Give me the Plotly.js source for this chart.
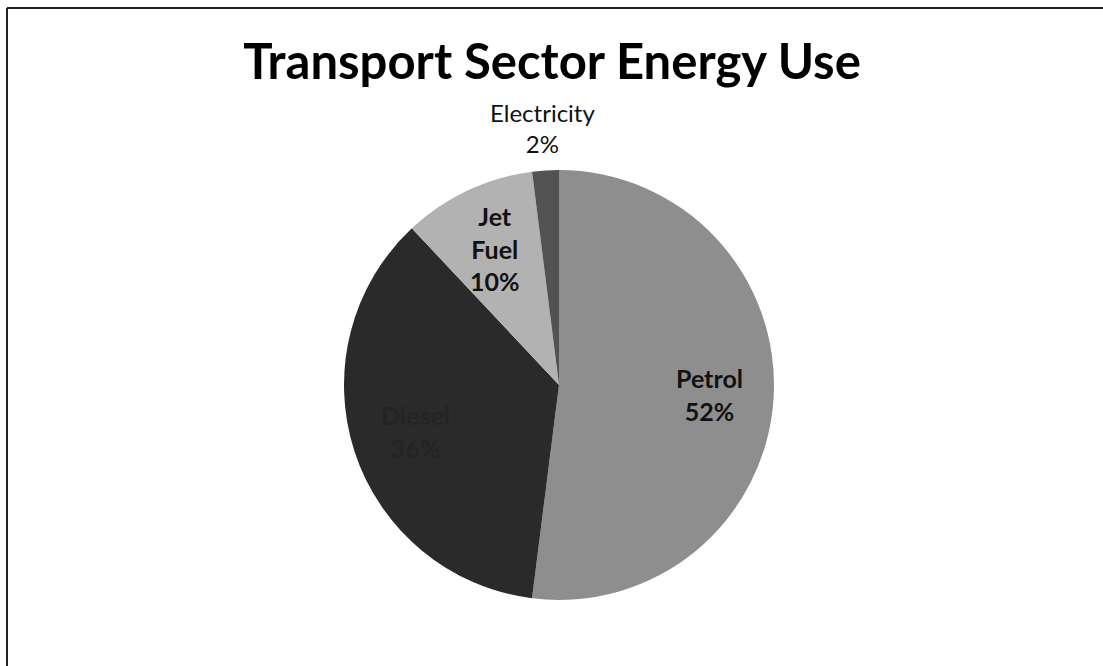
<!DOCTYPE html>
<html>
<head>
<meta charset="utf-8">
<script src="https://cdn.plot.ly/plotly-3.0.1.min.js"></script>
<style>html,body{margin:0;padding:0;background:#fff;overflow:hidden;}#chart{width:1103px;height:666px;}</style>
</head>
<body>
<div id="chart"></div>
<script>
// Data
const labels = ["Petrol", "Diesel", "Jet Fuel", "Electricity"];
const values = [52, 36, 10, 2];
const sliceColors = ["#8e8e8e", "#2a2a2a", "#b2b2b2", "#525252"];
const labelInside = [true, true, true, false];
const textColors = ["#111111", "#242424", "#111111", "#111111"];
const chartTitle = "Transport Sector Energy Use";

const W = 1103, H = 666;
const cx = 559, cy = 385, r = 215;
const FONT = "Lato, 'Open Sans', sans-serif";

const trace = {
  type: "pie",
  labels: labels,
  values: values,
  sort: false,
  direction: "clockwise",
  rotation: 0,
  textinfo: "none",
  marker: { colors: sliceColors, line: { width: 0 } },
  domain: { x: [(cx - r) / W, (cx + r) / W], y: [(H - cy - r) / H, (H - cy + r) / H] },
  showlegend: false,
  hoverinfo: "label+percent"
};

// Data labels placed along each slice's bisector (computed from the values)
const total = values.reduce((a, b) => a + b, 0);
let cum = 0;
const annotations = labels.map((lab, i) => {
  const mid = (cum + values[i] / 2) / total * 2 * Math.PI; // clockwise from 12 o'clock
  cum += values[i];
  const rr = labelInside[i] ? r * 0.7 : r * 1.2;
  const px = cx + rr * Math.sin(mid);
  const py = cy - rr * Math.cos(mid);
  const pct = Math.round(values[i] / total * 100) + "%";
  const txt = labelInside[i]
    ? "<b>" + lab.split(" ").join("<br>") + "<br>" + pct + "</b>"
    : lab + "<br>" + pct;
  return {
    xref: "paper", yref: "paper",
    x: px / W, y: 1 - py / H,
    xanchor: "center", yanchor: "middle",
    text: txt, showarrow: false, align: "center",
    font: { family: FONT, size: labelInside[i] ? 25 : 24, color: textColors[i] }
  };
});

const layout = {
  width: W, height: H,
  margin: { l: 0, r: 0, t: 0, b: 0 },
  paper_bgcolor: "#ffffff",
  showlegend: false,
  title: {
    text: "<b>" + chartTitle + "</b>",
    x: 552 / W, xanchor: "center",
    y: 1 - 62 / H, yanchor: "middle",
    font: { family: FONT, size: 49, color: "#000000" }
  },
  annotations: annotations,
  shapes: [
    { type: "line", xref: "paper", yref: "paper",
      x0: 7 / W, x1: 7 / W, y0: 0, y1: 1 - 8 / H,
      line: { color: "#222222", width: 2 } },
    { type: "line", xref: "paper", yref: "paper",
      x0: 7 / W, x1: 1, y0: 1 - 8 / H, y1: 1 - 8 / H,
      line: { color: "#222222", width: 2 } }
  ]
};

Plotly.newPlot("chart", [trace], layout, { displayModeBar: false, staticPlot: true });
</script>
</body>
</html>
